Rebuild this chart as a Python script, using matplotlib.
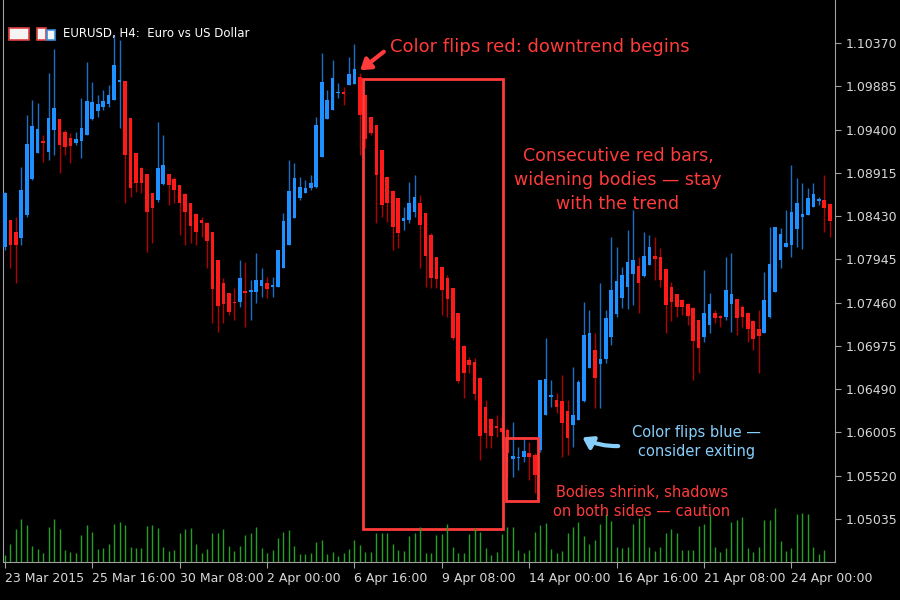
import matplotlib
matplotlib.use("Agg")
import matplotlib.pyplot as plt
from matplotlib.patches import Rectangle, FancyArrowPatch

plt.rcParams['font.family'] = ['DejaVu Sans']

# EURUSD H4 candles, prices in points (1e-5)
opens = [108084, 108386, 108252, 108184, 108442, 108846, 109137, 109272, 109148, 109395,
         109518, 109372, 109305, 109249, 109272, 109339, 109518, 109608, 109653, 109686,
         109731, 109933, 109944, 109529, 109137, 108969, 108902, 108689, 108610, 108790,
         108902, 108846, 108778, 108678, 108577, 108453, 108386, 108353, 108252, 107938,
         107680, 107568, 107467, 107467, 107590, 107579, 107579, 107646, 107680, 107635,
         107635, 107848, 108106, 108409, 108633, 108689, 108745, 108756, 109092, 109518,
         109619, 109810, 109821, 109899, 109910, 109989, 109787, 109541, 109451, 109171,
         108868, 108711, 108633, 108375, 108386, 108476, 108577, 108465, 108218, 107971,
         107859, 107736, 107624, 107344, 106974, 106817, 106795, 106615, 106290, 106156,
         106077, 106055, 106033, 105707, 105719, 105730, 105775, 105752, 105808, 106201,
         106402, 106369, 106358, 106245, 106089, 106145, 106358, 106727, 106929, 106772,
         106828, 107075, 107333, 107512, 107635, 107781, 107871, 107759, 107882, 107983,
         107971, 107837, 107635, 107557, 107490, 107445, 107400, 107265, 107075, 107209,
         107344, 107310, 107299, 107445, 107501, 107411, 107344, 107254, 107165, 107120,
         107299, 107579, 107938, 108084, 108106, 108285, 108420, 108442, 108532, 108599,
         108610, 108566]
closes = [108689, 108106, 108106, 108722, 109238, 109440, 109406, 109249, 109529, 109641,
          109227, 109204, 109216, 109294, 109417, 109720, 109709, 109686, 109720, 109787,
          110123, 109955, 109115, 108745, 108801, 108801, 108476, 108521, 108969, 109003,
          108778, 108722, 108577, 108476, 108319, 108252, 108353, 108151, 107613, 107422,
          107445, 107355, 107456, 107736, 107568, 107602, 107714, 107714, 107613, 107658,
          108050, 108375, 108711, 108857, 108756, 108745, 108801, 109451, 109933, 109731,
          109978, 109821, 109798, 110023, 110079, 109563, 109294, 109361, 108891, 108554,
          108577, 108308, 108240, 108409, 108577, 108644, 108330, 107983, 107736, 107725,
          107602, 107501, 107064, 106582, 106671, 106761, 106436, 105965, 105999, 105965,
          106055, 106010, 105775, 105741, 105730, 105797, 105730, 105528, 106593, 106604,
          106425, 106290, 106111, 105943, 106201, 106570, 107097, 107120, 106615, 106828,
          107288, 107602, 107702, 107770, 107915, 107937, 107680, 107983, 108084, 107949,
          107714, 107434, 107467, 107411, 107411, 107310, 107030, 106952, 107344, 107445,
          107288, 107288, 107602, 107557, 107288, 107299, 107165, 107052, 107086, 107490,
          107893, 108308, 108229, 108128, 108476, 108577, 108453, 108633, 108678, 108622,
          108521, 108375]
highs = [108704, 108386, 108424, 108984, 109563, 109731, 109694, 109339, 110030, 110299,
         109515, 109395, 109358, 109376, 109750, 110161, 109937, 109787, 109843, 109899,
         110460, 110404, 109944, 109526, 109141, 108984, 108898, 108693, 109489, 109339,
         108902, 108872, 108779, 108685, 108581, 108461, 108424, 108368, 108248, 107938,
         107733, 107564, 107621, 107938, 107919, 107714, 108013, 107845, 107751, 107751,
         108050, 108461, 109059, 109022, 108872, 108835, 108891, 109545, 110255, 109844,
         110180, 109918, 109881, 110217, 110359, 110030, 109788, 109545, 109451, 109171,
         108872, 108723, 108629, 108536, 108816, 108891, 108667, 108461, 108237, 107976,
         107864, 107770, 107621, 107340, 106986, 106855, 106836, 106631, 106369, 106164,
         106201, 106182, 106052, 106127, 105846, 105940, 105902, 105772, 106463, 107060,
         106593, 106444, 106649, 106369, 106743, 106593, 107471, 107378, 107116, 107677,
         107378, 108200, 108088, 107864, 108274, 108498, 107975, 108256, 108218, 108192,
         108069, 107845, 107695, 107527, 107497, 107452, 107415, 107266, 107826, 107564,
         107378, 107322, 107968, 108013, 107497, 107434, 107359, 107266, 107378, 107807,
         108312, 108312, 108293, 108498, 109003, 108853, 108797, 108741, 108797, 108648,
         108891, 108573]
lows = [108050, 107845, 107677, 108106, 108424, 108835, 109134, 109040, 109059, 109115,
        108909, 109115, 109022, 109227, 109078, 109339, 109507, 109545, 109619, 109657,
        109731, 109414, 108573, 108648, 108704, 108685, 108031, 108125, 108592, 108779,
        108555, 108573, 108218, 108106, 108125, 108106, 108200, 107845, 107228, 107135,
        107228, 107322, 107266, 107415, 107191, 107266, 107452, 107527, 107508, 107527,
        107639, 107845, 108106, 108405, 108611, 108685, 108723, 108741, 109096, 109515,
        109619, 109750, 109675, 109900, 109918, 109115, 109190, 109339, 108349, 108424,
        108368, 108050, 108069, 108274, 108349, 108424, 107845, 107640, 107621, 107621,
        107322, 107303, 107042, 106556, 106388, 106668, 106369, 105697, 105827, 105827,
        105958, 105846, 105510, 105510, 105585, 105678, 105473, 105323, 105790, 106257,
        106294, 106220, 105734, 105753, 105846, 106145, 106351, 106724, 106276, 106276,
        106780, 106985, 107303, 107396, 107385, 107434, 107348, 107751, 107938, 107714,
        107639, 107124, 107258, 107303, 107322, 107210, 106593, 106668, 107023, 107116,
        107228, 107191, 107266, 107135, 107098, 107191, 107023, 106929, 106668, 107135,
        107284, 107583, 107845, 108088, 107975, 108088, 108058, 108442, 108536, 108555,
        108256, 108192]
# tick volume (relative)
volume = [20, 53, 98, 128, 111, 48, 38, 28, 105, 128, 98, 36, 31, 26, 81, 111, 91, 38, 43, 53,
          115, 121, 111, 46, 41, 43, 108, 110, 101, 46, 33, 36, 86, 98, 103, 55, 28, 38, 86, 86,
          98, 48, 33, 48, 80, 86, 105, 41, 28, 35, 71, 90, 96, 48, 23, 23, 28, 60, 65, 23,
          30, 18, 26, 40, 66, 51, 30, 30, 88, 88, 88, 55, 35, 33, 78, 88, 105,
          28, 28, 81, 85, 115, 46, 28, 26, 85, 101, 91, 41, 21, 30, 85, 106, 106, 36, 28, 35,
          90, 110, 118, 38, 28, 33, 86, 105, 121, 78, 53, 65, 113, 143, 123, 46, 41, 46, 115, 131,
          138, 45, 33, 45, 86, 98, 86, 35, 35, 35, 108, 113, 143, 45, 31, 43, 121, 126, 136, 43,
          31, 46, 125, 125, 161, 63, 33, 43, 145, 148, 143, 45, 25, 36]

time_labels = ["23 Mar 2015", "25 Mar 16:00", "30 Mar 08:00", "2 Apr 00:00", "6 Apr 16:00",
               "9 Apr 08:00", "14 Apr 00:00", "16 Apr 16:00", "21 Apr 08:00", "24 Apr 00:00"]
price_ticks = [1.05035, 1.05520, 1.06005, 1.06490, 1.06975, 1.07460, 1.07945, 1.08430, 1.08915,
               1.09400, 1.09885, 1.10370]

BLUE, BLUE_W = "#1e90ff", "#1a6fc4"
RED, RED_W = "#ff1a1a", "#b00000"
AX = "#a0a0a0"
ANN_RED = "#ff3b3b"
ANN_BLUE = "#87cefa"

fig = plt.figure(figsize=(9, 6), dpi=100, facecolor="black")
ax = fig.add_axes([0.003, 0.0633, 0.925, 0.9367], facecolor="black")
ax.set_xlim(-0.4, 152.0)
ax.set_ylim(1.04553, 1.10852)

# volume on a hidden twin axis
vax = ax.twinx()
vax.set_ylim(0, 1686)
vax.axis("off")
vax.vlines(range(len(volume)), 0, volume, color="#22a022", lw=1)

for i in range(len(closes)):
    o, c = opens[i] / 1e5, closes[i] / 1e5
    h = max(highs[i], opens[i], closes[i]) / 1e5
    l = min(lows[i], opens[i], closes[i]) / 1e5
    up = c >= o
    ax.vlines(i, l, h, color=BLUE_W if up else RED_W, lw=1, zorder=2)
    bot, hgt = min(o, c), max(abs(c - o), 0.00004)
    ax.add_patch(Rectangle((i - 0.33, bot), 0.66, hgt, facecolor=BLUE if up else RED,
                           edgecolor="none", zorder=3))

# axes styling
ax.spines["top"].set_visible(False)
for s in ["left", "right", "bottom"]:
    ax.spines[s].set_color(AX)
ax.yaxis.tick_right()
ax.set_yticks(price_ticks)
ax.set_yticklabels([f"{p:.5f}" for p in price_ticks])
ax.set_xticks([16 * k for k in range(len(time_labels))])
ax.set_xticklabels(time_labels, ha="left")
ax.tick_params(colors="#d8d8d8", labelsize=9, length=4, direction="out")
ax.tick_params(axis="x", pad=3, color=AX)
ax.tick_params(axis="y", color=AX)

# annotation boxes
ax.add_patch(Rectangle((65.5, 1.04923), 25.6, 1.09967 - 1.04923, fill=False,
                       edgecolor=ANN_RED, lw=2, zorder=5))
ax.add_patch(Rectangle((91.8, 1.05237), 5.8, 1.05943 - 1.05237, fill=False,
                       edgecolor=ANN_RED, lw=2, zorder=5))

# header icons + title
fig.patches.append(Rectangle((9 / 900, 1 - 40 / 600), 20 / 900, 12 / 600, transform=fig.transFigure,
                             facecolor="#f4f4f4", edgecolor="#e04040", lw=1.2))
fig.patches.append(Rectangle((37 / 900, 1 - 40 / 600), 9 / 900, 12 / 600, transform=fig.transFigure,
                             facecolor="#f4f4f4", edgecolor="#e04040", lw=1.2))
fig.patches.append(Rectangle((47 / 900, 1 - 40 / 600), 8 / 900, 10 / 600, transform=fig.transFigure,
                             facecolor="#f4f4f4", edgecolor="#3a8fe0", lw=1.2))
fig.text(63 / 900, 1 - 34 / 600, "EURUSD, H4:  Euro vs US Dollar", color="white", fontsize=8.5,
         va="center")

fig.text(390 / 900, 1 - 47 / 600, "Color flips red: downtrend begins", color=ANN_RED,
         fontsize=13, va="center", fontweight="medium")
fig.text(618 / 900, 1 - 180 / 600, "Consecutive red bars,\nwidening bodies — stay\nwith the trend",
         color=ANN_RED, fontsize=12.5, ha="center", va="center", linespacing=1.45,
         fontweight="medium")
fig.text(642 / 900, 1 - 502 / 600, "Bodies shrink, shadows\non both sides — caution",
         color=ANN_RED, fontsize=10.5, ha="center", va="center", linespacing=1.4)
fig.text(697 / 900, 1 - 442 / 600, "Color flips blue —\nconsider exiting",
         color=ANN_BLUE, fontsize=10.5, ha="center", va="center", linespacing=1.4)

fig.patches.append(FancyArrowPatch((386 / 900, 1 - 50 / 600), (358 / 900, 1 - 72 / 600),
                                   transform=fig.transFigure, color=ANN_RED, lw=3,
                                   arrowstyle="-|>,head_length=6,head_width=4"))
fig.patches.append(FancyArrowPatch((621 / 900, 1 - 446 / 600), (580 / 900, 1 - 436 / 600),
                                   transform=fig.transFigure, color=ANN_BLUE, lw=3,
                                   arrowstyle="-|>,head_length=6,head_width=4",
                                   connectionstyle="arc3,rad=-0.15"))

fig.savefig("out.png", dpi=100, facecolor="black")
